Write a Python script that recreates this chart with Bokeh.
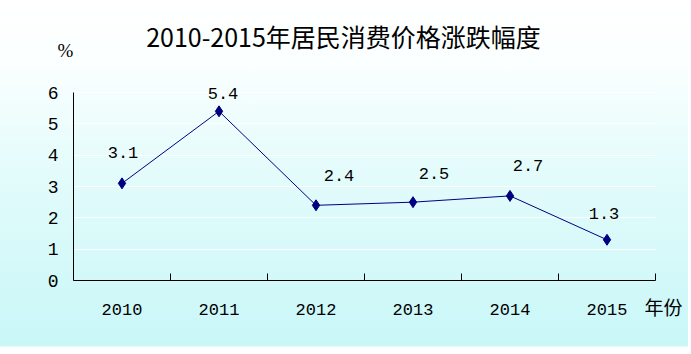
from bokeh.plotting import figure
from bokeh.models import FixedTicker, Label, ColumnDataSource, Range1d, Grid
from bokeh.core.properties import value
from bokeh.embed import file_html
from bokeh.resources import INLINE

# ---- data ----
years = ["2010", "2011", "2012", "2013", "2014", "2015"]
cpi_change = [3.1, 5.4, 2.4, 2.5, 2.7, 1.3]
y_ticks = [0, 1, 2, 3, 4, 5, 6]
title_text = "2010-2015年居民消费价格涨跌幅度"
y_unit = "%"
x_unit = "年份"

# label offsets (screen px), styling only
label_dx = [1, 4, 23, 21, 18, -3]
label_dy = [-31, -18, -30, -29, -30, -26]

# ---- layout (pixels) ----
W, H = 691, 354
PL, PR, PT, PB = 73, 655, 92, 280   # plot box in canvas pixels
n = len(years)
ymax = y_ticks[-1]
sx = (PR - PL) / n
sy = (PB - PT) / ymax

def px2x(px):
    return (px - PL) / sx

def px2y(py):
    return (PB - py) / sy

xs = [i + 0.5 for i in range(n)]
src = ColumnDataSource(dict(
    x=xs, y=cpi_change,
    lab=["%.1f" % v for v in cpi_change],
    dx=label_dx, dy=label_dy,
))

p = figure(width=W, height=H, output_backend="svg", toolbar_location=None,
           x_range=Range1d(px2x(0), px2x(W)), y_range=Range1d(px2y(H), px2y(0)),
           min_border=0, min_border_left=0, min_border_right=0,
           min_border_top=0, min_border_bottom=0)

p.background_fill_alpha = 0
p.border_fill_alpha = 0
p.outline_line_color = None
p.styles = {
    "background": "linear-gradient(to right, rgba(255,255,255,0) 688px, #ffffff 688px), "
                  "linear-gradient(to bottom, #ffffff 0px, #fbffff 60px, #e2fbfb 180px, #c9f7f8 346px, #ffffff 347px)"
}

num_font = "Liberation Mono"

# x axis: labels at centers, ticks at boundaries (as minor ticks)
xa = p.xaxis[0]
xa.fixed_location = 0
xa.bounds = (0, n)
xa.ticker = FixedTicker(ticks=xs, minor_ticks=list(range(n + 1)))
xa.major_label_overrides = {x: y for x, y in zip(xs, years)}
xa.major_tick_in = 0
xa.major_tick_out = 0
xa.minor_tick_in = 7
xa.minor_tick_out = 0
xa.minor_tick_line_color = "black"
xa.axis_line_color = "black"
xa.major_label_standoff = 23
xa.major_label_text_font = num_font
xa.major_label_text_font_size = "17px"
xa.major_label_text_color = "black"

ya = p.yaxis[0]
ya.fixed_location = 0
ya.bounds = (0, ymax)
ya.ticker = FixedTicker(ticks=y_ticks)
ya.major_tick_in = 0
ya.major_tick_out = 0
ya.minor_tick_in = 0
ya.minor_tick_out = 0
ya.axis_line_color = "black"
ya.major_label_standoff = 15
ya.major_label_text_font = num_font
ya.major_label_text_font_size = "18px"
ya.major_label_text_color = "black"

# grid
p.xgrid.visible = False
p.ygrid.ticker = FixedTicker(ticks=y_ticks[1:])
p.ygrid.grid_line_color = "#ffffff"
p.ygrid.grid_line_width = 1
has_cross = "cross_bounds" in Grid.properties()
if has_cross:
    p.ygrid.cross_bounds = (0, n)
else:
    p.ygrid.visible = False
    p.segment(x0=[0] * (len(y_ticks) - 1), x1=[n] * (len(y_ticks) - 1),
              y0=y_ticks[1:], y1=y_ticks[1:], line_color="#ffffff", line_width=1,
              level="underlay")

# series
p.line("x", "y", source=src, line_color="#000080", line_width=1)
p.scatter("x", "y", source=src, marker="diamond", size=11,
          fill_color="#000080", line_color="#000080")
p.text("x", "y", text="lab", source=src, x_offset="dx", y_offset="dy",
       text_align="center", text_baseline="middle",
       text_font=value(num_font), text_font_size="17px", text_color="black")

# texts outside the plot box
p.add_layout(Label(x=px2x(343), y=px2y(35), text=title_text, text_align="center",
                   text_baseline="middle", text_font="Noto Sans CJK SC",
                   text_font_size="25px", text_color="black"))
p.add_layout(Label(x=px2x(65), y=px2y(50), text=y_unit, text_align="center",
                   text_baseline="middle", text_font="Liberation Sans Narrow",
                   text_font_size="19px", text_color="black"))
p.add_layout(Label(x=px2x(644), y=px2y(306), text=x_unit, text_align="left",
                   text_baseline="middle", text_font="Noto Sans CJK SC",
                   text_font_size="19px", text_color="black"))

open("out.html", "w").write(file_html(p, INLINE))
